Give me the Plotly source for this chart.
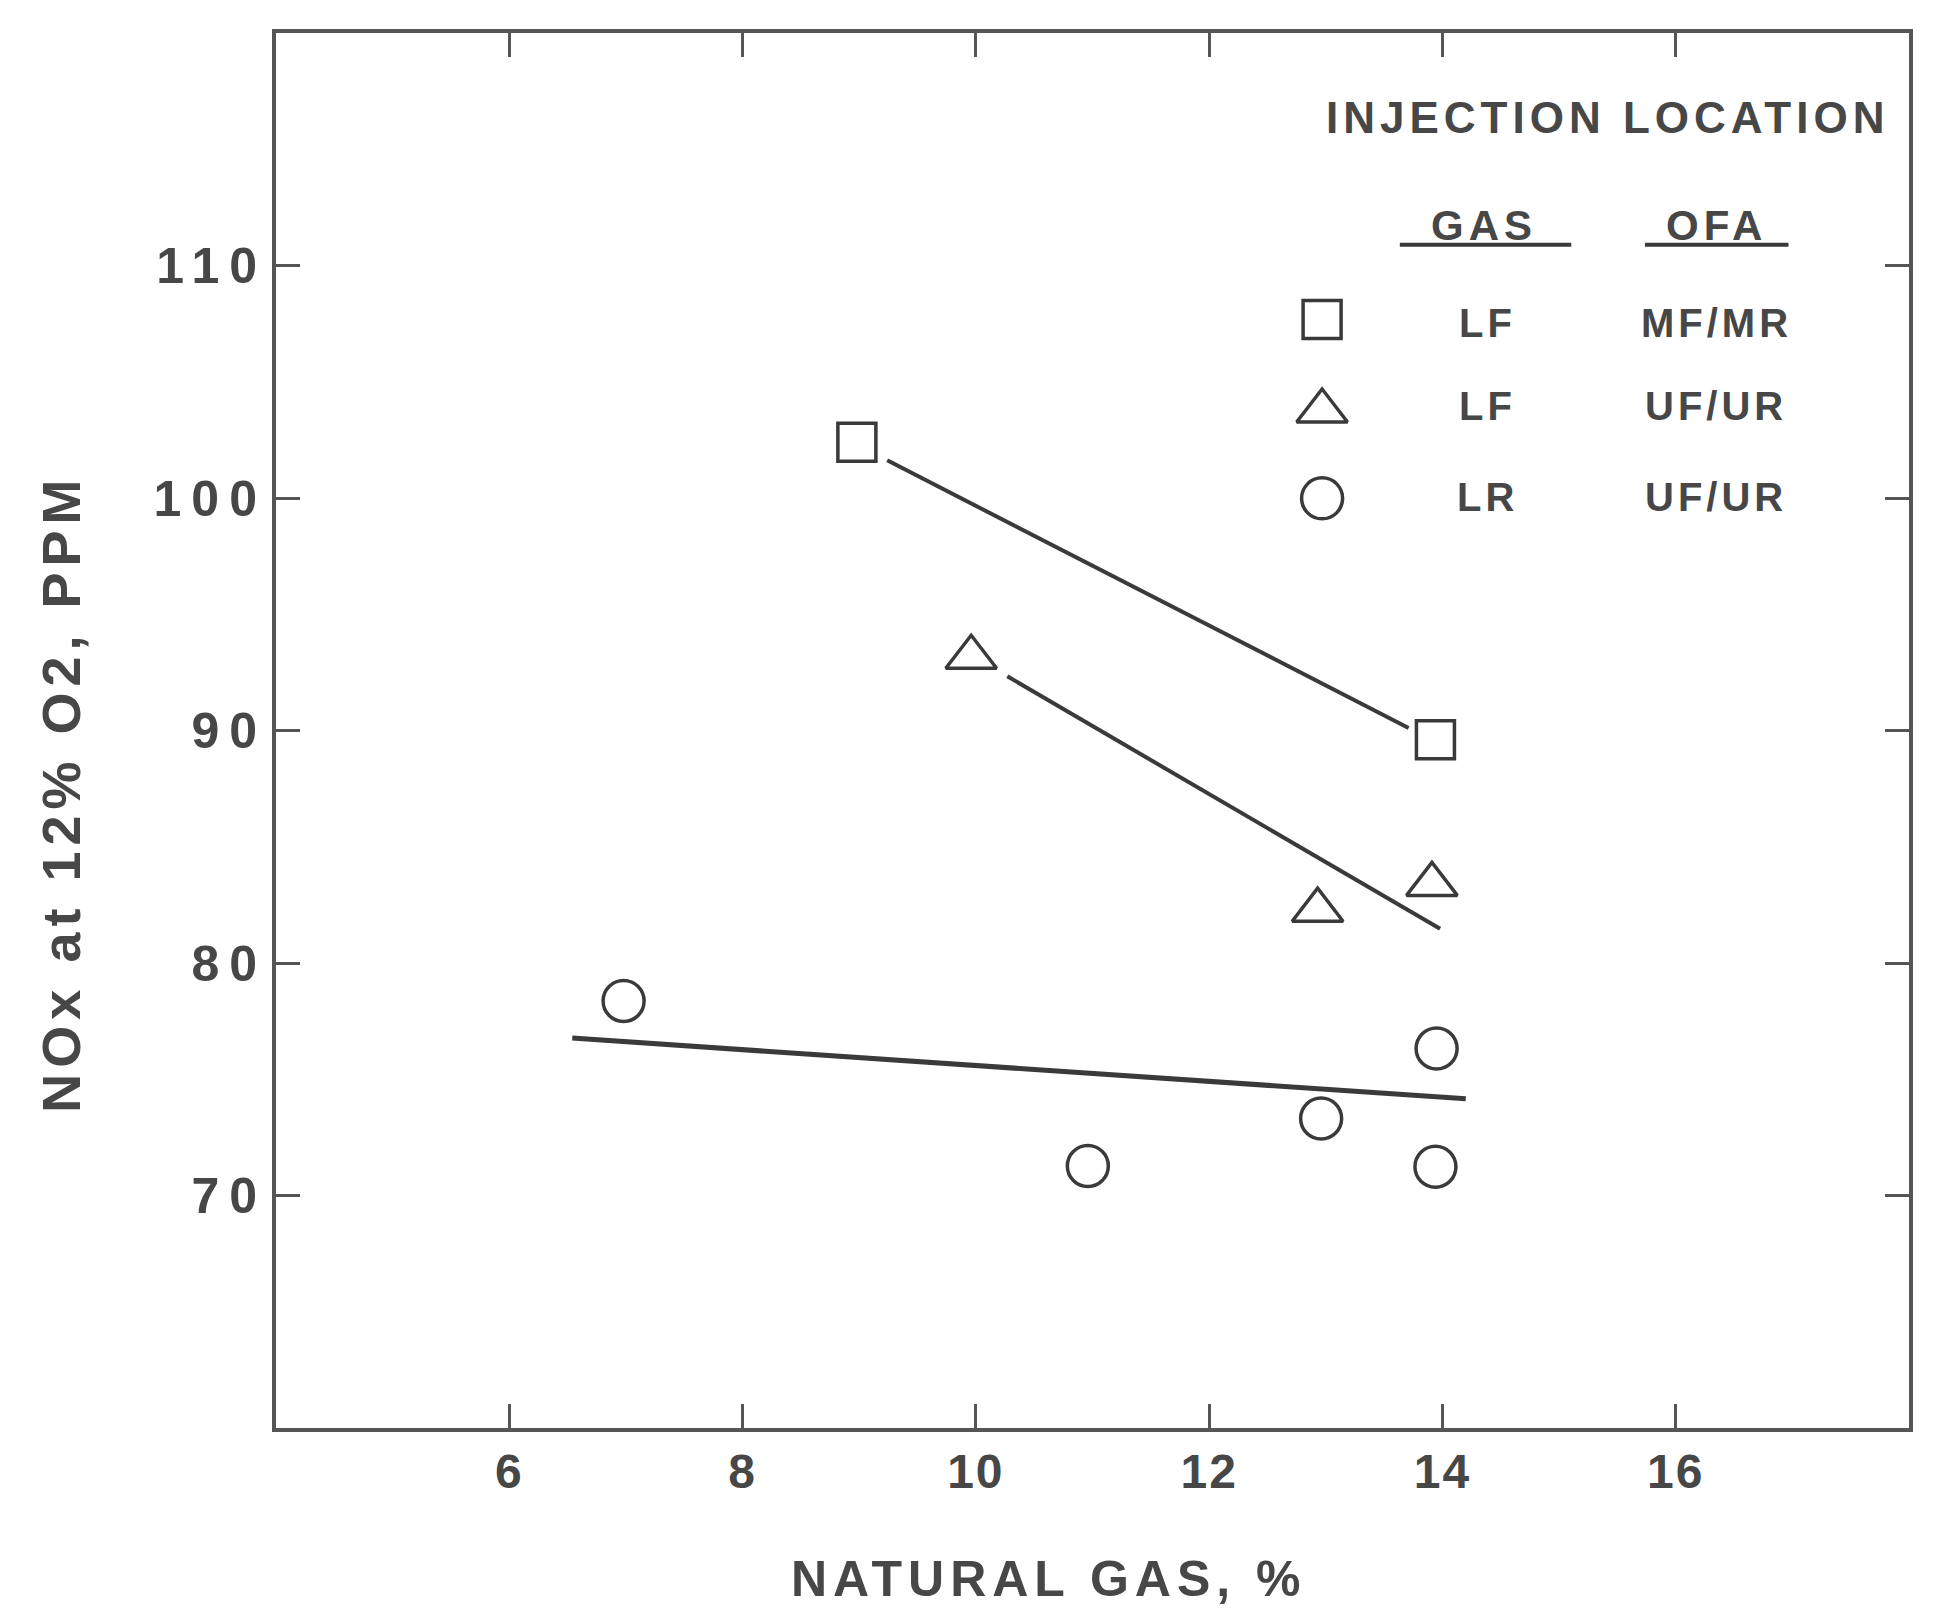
import plotly.graph_objects as go

# ---------------- data ----------------
# LF gas / MF-MR OFA  (squares)
sq_x = [8.98, 13.94]
sq_y = [102.4, 89.6]
# LF gas / UF-UR OFA  (triangles)
tri_x = [9.96, 12.93, 13.91]
tri_y = [93.15, 82.27, 83.38]
# LR gas / UF-UR OFA  (circles)
cir_x = [6.98, 10.96, 12.96, 13.95, 13.94]
cir_y = [78.37, 71.27, 73.31, 76.32, 71.24]

# fitted trend lines (end points)
sq_fit_x = [9.24, 13.71]
sq_fit_y = [101.62, 90.11]
tri_fit_x = [10.27, 13.98]
tri_fit_y = [92.33, 81.47]
cir_fit_x = [6.54, 14.20]
cir_fit_y = [76.77, 74.16]

x_ticks = [6, 8, 10, 12, 14, 16]
y_ticks = [70, 80, 90, 100, 110]

legend_gas = ["LF", "LF", "LR"]
legend_ofa = ["MF/MR", "UF/UR", "UF/UR"]
legend_symbols = ["square-open", "triangle-up-open", "circle-open"]

# ---------------- style ----------------
INK = "#3a3a3a"
TXT = "#474747"
FONT = "Liberation Sans, Arial, sans-serif"
SIZES = {"square-open": 38, "triangle-up-open": 44, "circle-open": 41}


def spaced(text, px):
    return f'<span style="letter-spacing:{px}px">{text}</span>'


fig = go.Figure()

marker_line = dict(color=INK, width=3.5)

# fit lines
fig.add_trace(go.Scatter(x=sq_fit_x, y=sq_fit_y, mode="lines",
                         line=dict(color=INK, width=4), showlegend=False, hoverinfo="skip"))
fig.add_trace(go.Scatter(x=tri_fit_x, y=tri_fit_y, mode="lines",
                         line=dict(color=INK, width=4), showlegend=False, hoverinfo="skip"))
fig.add_trace(go.Scatter(x=cir_fit_x, y=cir_fit_y, mode="lines",
                         line=dict(color=INK, width=5), showlegend=False, hoverinfo="skip"))

# data points
for xs, ys, sym, nm in [(sq_x, sq_y, "square-open", "LF  MF/MR"),
                        (tri_x, tri_y, "triangle-up-open", "LF  UF/UR"),
                        (cir_x, cir_y, "circle-open", "LR  UF/UR")]:
    fig.add_trace(go.Scatter(x=xs, y=ys, mode="markers", name=nm,
                             marker=dict(symbol=sym, size=SIZES[sym], color=INK, line=marker_line),
                             showlegend=False))

# ---------------- hand-made legend (table style) ----------------
key_x = 0.6406
key_y = [0.7946, 0.729, 0.6664]
row_y = [0.7924, 0.7323, 0.6671]
col_gas_x = 0.7419
col_ofa_x = 0.882

for sym, ky in zip(legend_symbols, key_y):
    fig.add_trace(go.Scatter(
        x=[key_x], y=[ky], mode="markers", xaxis="x2", yaxis="y2",
        marker=dict(symbol=sym, size=SIZES[sym], color=INK, line=marker_line),
        showlegend=False, hoverinfo="skip"))

annotations = []
annotations.append(dict(x=0.8154, y=0.9395, xref="paper", yref="paper",
                        text=spaced("INJECTION LOCATION", 5), showarrow=False,
                        xanchor="center", yanchor="middle",
                        font=dict(family=FONT, size=44, color=TXT, weight="bold")))
annotations.append(dict(x=0.7395, y=0.8618, xref="paper", yref="paper",
                        text=spaced("GAS", 5), showarrow=False,
                        xanchor="center", yanchor="middle",
                        font=dict(family=FONT, size=42, color=TXT, weight="bold")))
annotations.append(dict(x=0.8822, y=0.8618, xref="paper", yref="paper",
                        text=spaced("OFA", 5), showarrow=False,
                        xanchor="center", yanchor="middle",
                        font=dict(family=FONT, size=42, color=TXT, weight="bold")))
for g, o, yy in zip(legend_gas, legend_ofa, row_y):
    annotations.append(dict(x=col_gas_x, y=yy, xref="paper", yref="paper",
                            text=spaced(g, 4), showarrow=False,
                            xanchor="center", yanchor="middle",
                            font=dict(family=FONT, size=40, color=TXT, weight="bold")))
    annotations.append(dict(x=col_ofa_x, y=yy, xref="paper", yref="paper",
                            text=spaced(o, 4), showarrow=False,
                            xanchor="center", yanchor="middle",
                            font=dict(family=FONT, size=40, color=TXT, weight="bold")))

# axis titles
annotations.append(dict(x=0.4735, y=-0.1085, xref="paper", yref="paper",
                        text=spaced("NATURAL GAS, %", 6), showarrow=False,
                        xanchor="center", yanchor="middle",
                        font=dict(family=FONT, size=50, color=TXT, weight="bold")))
annotations.append(dict(x=-0.1318, y=0.4553, xref="paper", yref="paper",
                        text=spaced("NOx at 12% O2, PPM", 6), showarrow=False,
                        textangle=-90, xanchor="center", yanchor="middle",
                        font=dict(family=FONT, size=54, color=TXT, weight="bold")))

shapes = [
    dict(type="line", xref="paper", yref="paper", x0=0.6882, x1=0.7932, y0=0.8482, y1=0.8482,
         line=dict(color=INK, width=4)),
    dict(type="line", xref="paper", yref="paper", x0=0.8383, x1=0.9262, y0=0.8482, y1=0.8482,
         line=dict(color=INK, width=4)),
]

axis_common = dict(
    showline=True, linecolor="#555555", linewidth=4, mirror="ticks",
    ticks="inside", ticklen=24, tickwidth=3, tickcolor="#555555",
    showgrid=False, zeroline=False,
)

# page body has a small margin: size the figure so the plot lands where the reference has it
fig.update_layout(
    width=1917, height=1602,
    margin=dict(l=268, r=12, t=25, b=182),
    paper_bgcolor="white", plot_bgcolor="white",
    showlegend=False,
    xaxis=dict(range=[4, 18], tickvals=x_ticks,
               ticktext=[spaced(str(v), 2) for v in x_ticks],
               tickfont=dict(family=FONT, size=48, color=TXT, weight="bold"),
               ticklabelstandoff=-2, **axis_common),
    yaxis=dict(range=[60, 120], tickvals=y_ticks,
               ticktext=[spaced(str(v), 10) for v in y_ticks],
               tickfont=dict(family=FONT, size=50, color=TXT, weight="bold"),
               ticklabelstandoff=-5, **axis_common),
    xaxis2=dict(range=[0, 1], overlaying="x", visible=False),
    yaxis2=dict(range=[0, 1], overlaying="y", visible=False),
    annotations=annotations,
    shapes=shapes,
)

fig.write_html("out.html")
